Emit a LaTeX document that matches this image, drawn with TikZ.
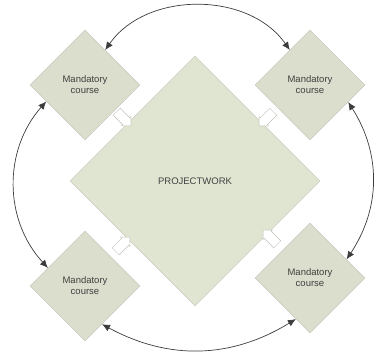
\documentclass[tikz,border=0pt]{standalone}
\usepackage{fontspec}
\setmainfont{Liberation Sans}
\usepackage{tikz}
\usetikzlibrary{shapes.geometric}
\usetikzlibrary{shapes.arrows}
\usetikzlibrary{arrows.meta}

\definecolor{coursefill}{RGB}{219,222,204}
\definecolor{projectfill}{RGB}{224,229,210}
\definecolor{shapeline}{RGB}{192,194,184}
\definecolor{ringline}{RGB}{60,60,60}

\begin{document}
\begin{tikzpicture}[x=1pt, y=-1pt,
    every node/.style={font=\fontsize{9.5}{11}\selectfont, text=black!75},
    course/.style={diamond, aspect=1, draw=shapeline, fill=coursefill, minimum size=110pt, inner sep=0pt, align=center},
    project/.style={diamond, aspect=1, draw=shapeline, fill=projectfill, minimum size=250pt, inner sep=0pt},
    link/.style={single arrow, draw=shapeline, fill=white, minimum height=20pt, minimum width=13pt, single arrow head extend=1.5pt, inner sep=4.5pt},
    ring/.style={draw=ringline, line width=0.7pt, {Latex[length=8pt,width=7pt]}-{Latex[length=8pt,width=7pt]}}]

      \useasboundingbox (0,0) rectangle (374,356);

      % Project in the middle
      \node[project] (pw) at (195,181) {PROJECTWORK};

      % Mandatory courses round it
      \foreach \name/\px/\py in {tl/85/85, tr/310/85, bl/85/286, br/310/278} {
        \node[course] (\name) at (\px,\py) {Mandatory\\course};
      }

      % Small links into the project
      \foreach \name/\px/\py/\ang in {ltl/122/117/-45, ltr/268/117/-135, lbl/121/246/45, lbr/272/239/135} {
        \node[link, rotate=\ang] (\name) at (\px,\py) {};
      }

      % Ring of arrows between the courses
      \draw[ring] (tl.60) to[bend left=55] (tr.120);
      \draw[ring] (tr.336) to[bend left=33] (br.27);
      \draw[ring] (bl.294) to[bend right=30] (br.251);
      \draw[ring] (tl.203) to[bend right=42] (bl.154);

    \end{tikzpicture}
\end{document}
